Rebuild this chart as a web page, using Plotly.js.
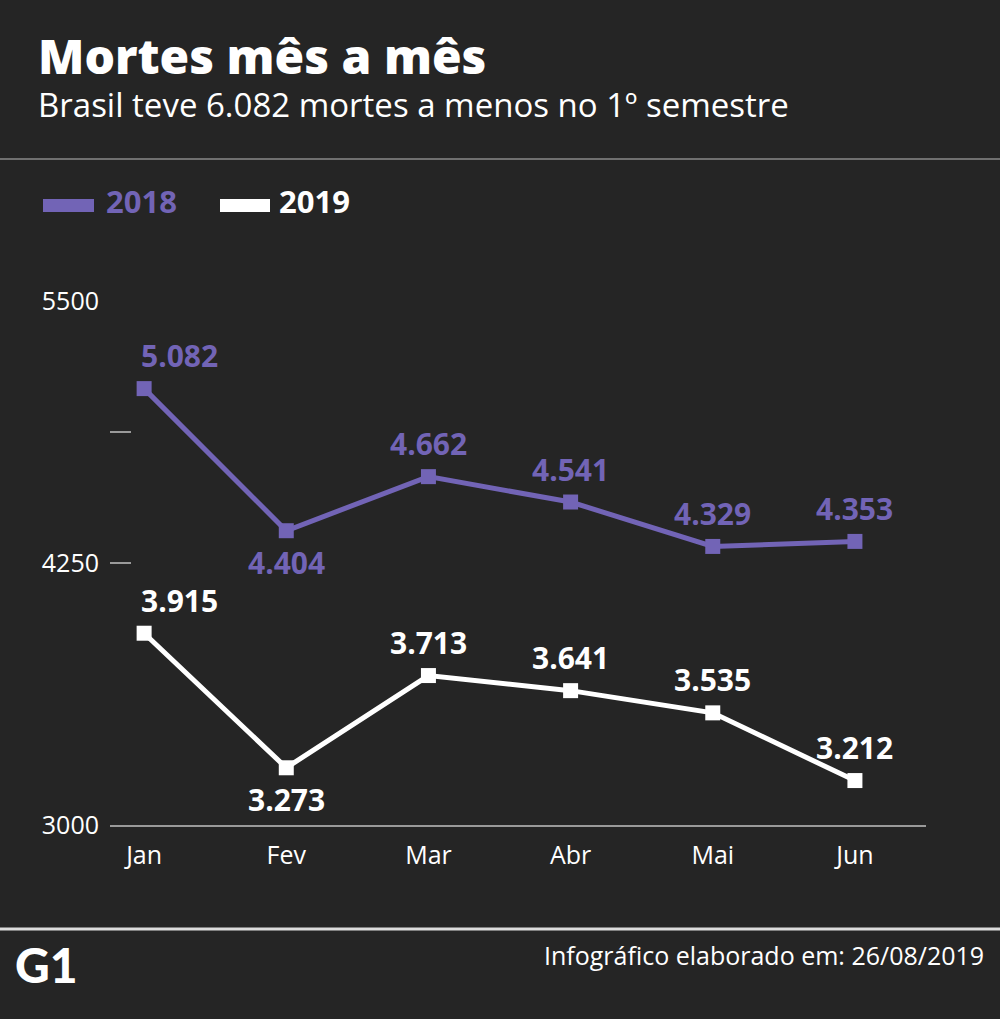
<!DOCTYPE html>
<html>
<head>
<meta charset="utf-8">
<script src="https://cdn.plot.ly/plotly-3.0.1.min.js"></script>
<style>
  html, body { margin: 0; padding: 0; background: #252525; }
  #chart { width: 1000px; height: 1019px; }
</style>
</head>
<body>
<div id="chart"></div>
<script>
// ---- Data ----
const months = ['Jan', 'Fev', 'Mar', 'Abr', 'Mai', 'Jun'];
const deaths2018 = [5082, 4404, 4662, 4541, 4329, 4353];
const deaths2019 = [3915, 3273, 3713, 3641, 3535, 3212];
const seriesNames = ['2018', '2019'];
const yTickVals = [3000, 4250, 4875, 5500];
const yTickText = ['3000', '4250', '', '5500'];
const titleText = 'Mortes mês a mês';
const subtitleText = 'Brasil teve 6.082 mortes a menos no 1º semestre';
const footerText = 'Infográfico elaborado em: 26/08/2019';
const logoText = 'G1';

// ---- Styles ----
const PURPLE = '#7264b6';
const WHITE = '#ffffff';
const BG = '#252525';
const AXIS = '#9a9a9a';
const FONT = 'Open Sans, DejaVu Sans, sans-serif';

const W = 1000, H = 1019;
const M = { l: 110, r: 74, t: 301, b: 194 };
const PW = W - M.l - M.r, PH = H - M.t - M.b;
const px = v => (v - M.l) / PW;          // page px -> paper x
const py = v => (H - M.b - v) / PH;      // page px -> paper y

function fmt(n) {
  return String(n).replace(/\B(?=(\d{3})+(?!\d))/g, '.');
}

const series = [
  { name: seriesNames[0], y: deaths2018, color: PURPLE },
  { name: seriesNames[1], y: deaths2019, color: WHITE }
];

const traces = series.map(s => ({
  type: 'scatter',
  mode: 'lines+markers',
  name: s.name,
  x: months,
  y: s.y,
  line: { color: s.color, width: 5 },
  marker: { symbol: 'square', size: 15, color: s.color },
  cliponaxis: false,
  hoverinfo: 'skip'
}));

const annotations = [];
// value labels: below for February, above otherwise; January nudged right
series.forEach(s => {
  s.y.forEach((v, i) => {
    const below = months[i] === 'Fev';
    annotations.push({
      x: months[i], y: v, xref: 'x', yref: 'y',
      text: fmt(v), showarrow: false,
      font: { family: FONT, size: 30, color: s.color, weight: 'bold' },
      xanchor: 'center', yanchor: 'middle',
      xshift: i === 0 ? 35 : 0,
      yshift: below ? -32 : 33
    });
  });
});

// title / subtitle
annotations.push({
  xref: 'paper', yref: 'paper', x: px(36), y: py(56),
  xanchor: 'left', yanchor: 'middle', showarrow: false,
  text: titleText,
  font: { family: FONT, size: 48, color: WHITE, weight: 800 }
});
annotations.push({
  xref: 'paper', yref: 'paper', x: px(36), y: py(104),
  xanchor: 'left', yanchor: 'middle', showarrow: false,
  text: subtitleText,
  font: { family: FONT, size: 33, color: WHITE }
});
// legend text
annotations.push({
  xref: 'paper', yref: 'paper', x: px(104), y: py(201),
  xanchor: 'left', yanchor: 'middle', showarrow: false,
  text: seriesNames[0],
  font: { family: FONT, size: 31, color: PURPLE, weight: 'bold' }
});
annotations.push({
  xref: 'paper', yref: 'paper', x: px(277), y: py(201),
  xanchor: 'left', yanchor: 'middle', showarrow: false,
  text: seriesNames[1],
  font: { family: FONT, size: 31, color: WHITE, weight: 'bold' }
});
// footer
annotations.push({
  xref: 'paper', yref: 'paper', x: px(986), y: py(955),
  xanchor: 'right', yanchor: 'middle', showarrow: false,
  text: footerText,
  font: { family: FONT, size: 25, color: WHITE }
});
annotations.push({
  xref: 'paper', yref: 'paper', x: px(13), y: py(964),
  xanchor: 'left', yanchor: 'middle', showarrow: false,
  text: logoText,
  font: { family: 'Lato, sans-serif', size: 48, color: WHITE, weight: 900 }
});

const shapes = [
  // top separator
  { type: 'line', xref: 'paper', yref: 'paper', x0: px(0), x1: px(1000), y0: py(159), y1: py(159),
    line: { color: '#8a8a8a', width: 1.5 } },
  // bottom separator
  { type: 'line', xref: 'paper', yref: 'paper', x0: px(0), x1: px(1000), y0: py(929), y1: py(929),
    line: { color: '#dddddd', width: 3 } },
  // legend swatches
  { type: 'rect', xref: 'paper', yref: 'paper', x0: px(43), x1: px(94), y0: py(212), y1: py(199),
    fillcolor: PURPLE, line: { width: 0 } },
  { type: 'rect', xref: 'paper', yref: 'paper', x0: px(220), x1: px(270), y0: py(212), y1: py(199),
    fillcolor: WHITE, line: { width: 0 } }
];

const layout = {
  width: W, height: H, autosize: false,
  margin: M,
  paper_bgcolor: BG, plot_bgcolor: 'rgba(0,0,0,0)',
  showlegend: false,
  font: { family: FONT, color: WHITE },
  xaxis: {
    type: 'category', range: [-0.24, 5.5],
    showgrid: false, zeroline: false,
    showline: true, linecolor: AXIS, linewidth: 2,
    ticks: '', tickfont: { family: FONT, size: 25, color: WHITE },
    ticklabelstandoff: 7,
    fixedrange: true
  },
  yaxis: {
    range: [3000, 5500],
    tickvals: yTickVals, ticktext: yTickText,
    showgrid: false, zeroline: false, showline: false,
    ticks: 'inside', ticklen: 21, tickwidth: 2, tickcolor: AXIS,
    tickfont: { family: FONT, size: 25, color: WHITE },
    ticklabelstandoff: 10,
    fixedrange: true
  },
  annotations: annotations,
  shapes: shapes
};

Plotly.newPlot('chart', traces, layout, { displayModeBar: false, staticPlot: true });
</script>
</body>
</html>
